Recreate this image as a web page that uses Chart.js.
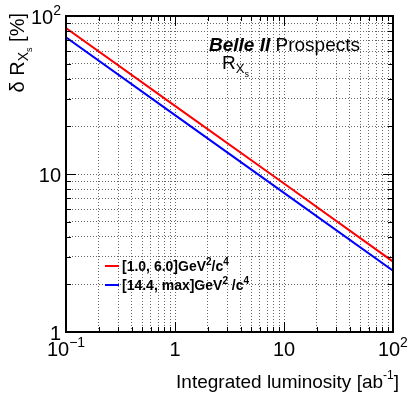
<!DOCTYPE html>
<html>
<head>
<meta charset="utf-8">
<script src="https://cdn.jsdelivr.net/npm/chart.js@4/dist/chart.umd.min.js"></script>
<style>
  html, body { margin: 0; padding: 0; background: #fff; }
  #wrap { width: 415px; height: 398px; }
</style>
</head>
<body>
<div id="wrap"><canvas id="plot" width="415" height="398"></canvas></div>
<script>
// luminosity points (ab^-1) and relative uncertainty (%)
const lumi = [0.1, 1, 10, 100];
const lowQ2 = [84, 27.0, 8.7, 2.79];
const highQ2 = [73.3, 23.6, 7.6, 2.44];

const xTicks = [0.1, 0.2, 0.3, 0.4, 0.5, 0.6, 0.7, 0.8, 0.9,
  1, 2, 3, 4, 5, 6, 7, 8, 9, 10, 20, 30, 40, 50, 60, 70, 80, 90, 100];
const yTicks = [1, 2, 3, 4, 5, 6, 7, 8, 9, 10, 20, 30, 40, 50, 60, 70, 80, 90, 100];
const xLabels = [[0.1, "10", "−1"], [1, "1", ""], [10, "10", ""], [100, "10", "2"]];
const yLabels = [[1, "1", ""], [10, "10", ""], [100, "10", "2"]];

const FONT = "'Liberation Sans', Arial, Helvetica, sans-serif";

function isMajor(v) {
  const l = Math.log10(v);
  return Math.abs(l - Math.round(l)) < 1e-6;
}

// draw a list of [text, size, dy, weight/style] pieces one after another
function drawPieces(ctx, x, y, pieces) {
  let cx = x;
  pieces.forEach(([t, size, dy, style]) => {
    ctx.font = (style || "") + " " + size + "px " + FONT;
    ctx.fillText(t, cx, y + dy);
    cx += ctx.measureText(t).width;
  });
  return cx - x;
}
function piecesWidth(ctx, pieces) {
  let w = 0;
  pieces.forEach(([t, size, dy, style]) => {
    ctx.font = (style || "") + " " + size + "px " + FONT;
    w += ctx.measureText(t).width;
  });
  return w;
}

const frame = {
  id: "frame",
  afterDraw(chart) {
    const ctx = chart.ctx;
    const { left, right, top, bottom } = chart.chartArea;
    const xs = chart.scales.x, ys = chart.scales.y;
    ctx.save();
    ctx.strokeStyle = "#000";
    ctx.lineWidth = 1;
    ctx.setLineDash([]);

    // ticks inside the frame
    ctx.beginPath();
    xTicks.forEach(v => {
      const px = Math.round(xs.getPixelForValue(v)) + 0.5;
      const len = isMajor(v) ? 10 : 5;
      ctx.moveTo(px, bottom); ctx.lineTo(px, bottom - len);
      ctx.moveTo(px, top); ctx.lineTo(px, top + len);
    });
    yTicks.forEach(v => {
      const py = Math.round(ys.getPixelForValue(v)) + 0.5;
      const len = isMajor(v) ? 10 : 5;
      ctx.moveTo(left, py); ctx.lineTo(left + len, py);
      ctx.moveTo(right, py); ctx.lineTo(right - len, py);
    });
    ctx.stroke();

    ctx.lineWidth = 2;
    ctx.strokeRect(left, top, right - left, bottom - top);

    ctx.fillStyle = "#000";
    ctx.textBaseline = "alphabetic";
    ctx.textAlign = "left";

    // x tick labels
    xLabels.forEach(([v, base, exp]) => {
      const px = xs.getPixelForValue(v);
      const p = [[base, 20, 0]];
      if (exp) p.push([exp, 14, -9]);
      const w = piecesWidth(ctx, p);
      let x0 = px - w / 2;
      if (v === 100) x0 = px - piecesWidth(ctx, [[base, 20, 0]]) / 2 - 4;
      drawPieces(ctx, x0, bottom + 24, p);
    });
    // y tick labels
    yLabels.forEach(([v, base, exp]) => {
      const py = ys.getPixelForValue(v);
      const p = [[base, 20, 0]];
      if (exp) p.push([exp, 14, -9]);
      const w = piecesWidth(ctx, p);
      drawPieces(ctx, left - 5 - w, py + 8, p);
    });

    // x title, right aligned
    const xt = [["Integrated luminosity [ab", 19, 0], ["-1", 12, -9], ["]", 19, 0]];
    drawPieces(ctx, right + 6 - piecesWidth(ctx, xt), 388, xt);

    // y title, rotated
    ctx.save();
    ctx.translate(24, top - 3);
    ctx.rotate(-Math.PI / 2);
    const yt = [["δ R", 20, 0], ["X", 14, 4], ["s", 9, 8], [" [%]", 20, 0]];
    drawPieces(ctx, -piecesWidth(ctx, yt), 0, yt);
    ctx.restore();

    // label
    drawPieces(ctx, 209, 51, [["Belle II", 19, 0, "italic bold"], [" Prospects", 19, 0]]);
    drawPieces(ctx, 222, 69, [["R", 19, 0], ["X", 13, 4], ["s", 9, 8]]);

    // legend
    const legend = [
      ["#ff0000", 266, [["[1.0, 6.0]GeV", 14, 0, "bold"], ["2", 10, -6, "bold"], ["/c", 14, 0, "bold"], ["4", 10, -6, "bold"]]],
      ["#0000ff", 285, [["[14.4, max]GeV", 14, 0, "bold"], ["2", 10, -6, "bold"], [" /c", 14, 0, "bold"], ["4", 10, -6, "bold"]]]
    ];
    legend.forEach(([col, y, p]) => {
      ctx.strokeStyle = col;
      ctx.lineWidth = 2;
      ctx.beginPath();
      ctx.moveTo(105, y); ctx.lineTo(119, y);
      ctx.stroke();
      drawPieces(ctx, 122, y + 5, p);
    });
    ctx.restore();
  }
};

const gridOpts = {
  display: true,
  drawTicks: false,
  color: "#666",
  lineWidth: 1
};

new Chart(document.getElementById("plot"), {
  type: "line",
  data: {
    datasets: [
      {
        label: "[1.0, 6.0]GeV2/c4",
        data: lumi.map((x, i) => ({ x, y: lowQ2[i] })),
        borderColor: "#ff0000",
        borderWidth: 2,
        pointRadius: 0,
        fill: false
      },
      {
        label: "[14.4, max]GeV2/c4",
        data: lumi.map((x, i) => ({ x, y: highQ2[i] })),
        borderColor: "#0000ff",
        borderWidth: 2,
        pointRadius: 0,
        fill: false
      }
    ]
  },
  options: {
    responsive: false,
    animation: false,
    layout: { padding: { left: 66, right: 22, top: 16, bottom: 66 } },
    plugins: { legend: { display: false }, tooltip: { enabled: false } },
    scales: {
      x: {
        type: "logarithmic",
        min: 0.1,
        max: 100,
        afterBuildTicks: s => { s.ticks = xTicks.map(v => ({ value: v })); },
        ticks: { display: false, autoSkip: false },
        grid: gridOpts,
        border: { display: false, dash: [1, 2] }
      },
      y: {
        type: "logarithmic",
        min: 1,
        max: 100,
        afterBuildTicks: s => { s.ticks = yTicks.map(v => ({ value: v })); },
        ticks: { display: false, autoSkip: false },
        grid: gridOpts,
        border: { display: false, dash: [1, 2] }
      }
    }
  },
  plugins: [frame]
});
</script>
</body>
</html>
